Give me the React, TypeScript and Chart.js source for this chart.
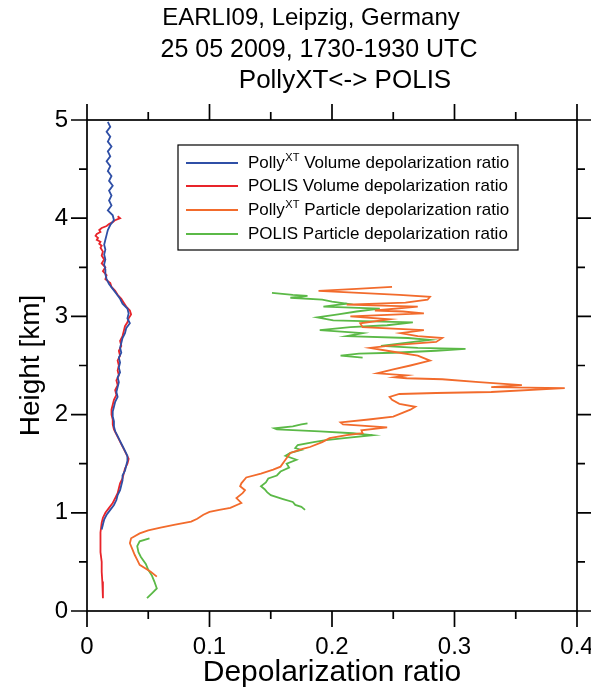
import React, { useEffect, useRef } from "react";
import { Chart, registerables } from "chart.js";

Chart.register(...registerables);

const FONT = "'Liberation Sans', Arial, Helvetica, sans-serif";

const titleLines = ["EARLI09, Leipzig, Germany", "25 05 2009, 1730-1930 UTC", "PollyXT<-> POLIS"];
const titleCenters = [311, 319, 345];
const titleSizes = [24, 25, 26];
const xTickValues = [0, 0.1, 0.2, 0.3, 0.4];
const yTickValues = [0, 1, 2, 3, 4, 5];
const xTitle = "Depolarization ratio";
const yTitle = "Height [km]";

const legendLabels = [
  ["Polly", "XT", " Volume depolarization ratio"],
  ["POLIS Volume depolarization ratio", "", ""],
  ["Polly", "XT", " Particle depolarization ratio"],
  ["POLIS Particle depolarization ratio", "", ""],
];
const seriesColors = ["#2f4fa6", "#e8242a", "#f26b2c", "#5bb947"];

// [height km, depolarization ratio]
const pollyVolume: [number, number][] = [
  [4.98, 0.017], [4.93, 0.019], [4.88, 0.016], [4.83, 0.019], [4.78, 0.017], [4.73, 0.02],
  [4.68, 0.017], [4.63, 0.019], [4.58, 0.016], [4.53, 0.019], [4.48, 0.017], [4.43, 0.02],
  [4.38, 0.018], [4.33, 0.021], [4.28, 0.018], [4.23, 0.02], [4.18, 0.018], [4.13, 0.02],
  [4.08, 0.017], [4.03, 0.021], [3.98, 0.022], [3.93, 0.019], [3.88, 0.017], [3.83, 0.016],
  [3.78, 0.015], [3.73, 0.014], [3.68, 0.015], [3.63, 0.014], [3.58, 0.015], [3.53, 0.014],
  [3.48, 0.015], [3.43, 0.015], [3.38, 0.016], [3.33, 0.018], [3.28, 0.021], [3.23, 0.024],
  [3.18, 0.027], [3.13, 0.029], [3.08, 0.033], [3.03, 0.034], [2.98, 0.033], [2.93, 0.035],
  [2.88, 0.032], [2.83, 0.031], [2.78, 0.029], [2.73, 0.028], [2.68, 0.027], [2.63, 0.028],
  [2.58, 0.026], [2.53, 0.027], [2.48, 0.026], [2.43, 0.027], [2.38, 0.025], [2.33, 0.026],
  [2.28, 0.025], [2.23, 0.024], [2.18, 0.025], [2.13, 0.023], [2.08, 0.022], [2.03, 0.021],
  [1.98, 0.021], [1.93, 0.022], [1.88, 0.022], [1.83, 0.023], [1.78, 0.025], [1.73, 0.027],
  [1.68, 0.029], [1.63, 0.031], [1.58, 0.033], [1.53, 0.033], [1.48, 0.032], [1.43, 0.031],
  [1.38, 0.029], [1.33, 0.029], [1.28, 0.028], [1.23, 0.027], [1.18, 0.025], [1.13, 0.024],
  [1.08, 0.022], [1.03, 0.019], [0.98, 0.016], [0.93, 0.014], [0.88, 0.013], [0.83, 0.012],
];

const polisVolume: [number, number][] = [
  [4.02, 0.025], [4.0, 0.027], [3.98, 0.023], [3.96, 0.021], [3.94, 0.018], [3.92, 0.016],
  [3.9, 0.012], [3.88, 0.01], [3.86, 0.011], [3.84, 0.008], [3.82, 0.007], [3.8, 0.009],
  [3.78, 0.008], [3.76, 0.011], [3.74, 0.01], [3.72, 0.012], [3.7, 0.011], [3.66, 0.013],
  [3.62, 0.012], [3.58, 0.014], [3.54, 0.012], [3.5, 0.015], [3.46, 0.013], [3.42, 0.016],
  [3.38, 0.015], [3.34, 0.019], [3.3, 0.02], [3.26, 0.023], [3.22, 0.025], [3.18, 0.028],
  [3.14, 0.03], [3.1, 0.032], [3.06, 0.035], [3.02, 0.036], [2.98, 0.034], [2.94, 0.033],
  [2.9, 0.031], [2.85, 0.03], [2.8, 0.029], [2.75, 0.027], [2.7, 0.028], [2.65, 0.026],
  [2.6, 0.027], [2.55, 0.025], [2.5, 0.026], [2.45, 0.025], [2.4, 0.026], [2.35, 0.024],
  [2.3, 0.025], [2.25, 0.023], [2.2, 0.024], [2.15, 0.022], [2.1, 0.021], [2.05, 0.02],
  [2.0, 0.02], [1.95, 0.021], [1.9, 0.021], [1.85, 0.022], [1.8, 0.024], [1.75, 0.026],
  [1.7, 0.028], [1.65, 0.03], [1.6, 0.032], [1.55, 0.034], [1.5, 0.033], [1.45, 0.031],
  [1.4, 0.03], [1.35, 0.029], [1.3, 0.027], [1.25, 0.026], [1.2, 0.025], [1.15, 0.023],
  [1.1, 0.021], [1.05, 0.018], [1.0, 0.015], [0.95, 0.013], [0.9, 0.012], [0.8, 0.011],
  [0.7, 0.011], [0.6, 0.011], [0.5, 0.012], [0.4, 0.012], [0.3, 0.0125], [0.2, 0.013],
  [0.13, 0.013],
];

const pollyParticle: [number, number][] = [
  [0.35, 0.057], [0.4, 0.052], [0.47, 0.043], [0.52, 0.041], [0.57, 0.039], [0.63, 0.037],
  [0.69, 0.035], [0.74, 0.036], [0.79, 0.043], [0.82, 0.05], [0.85, 0.06], [0.88, 0.072],
  [0.91, 0.085], [0.94, 0.09], [0.98, 0.095], [1.01, 0.1], [1.03, 0.108], [1.05, 0.117],
  [1.1, 0.126], [1.15, 0.122], [1.2, 0.127], [1.23, 0.129], [1.27, 0.125], [1.3, 0.126],
  [1.36, 0.13], [1.4, 0.142], [1.44, 0.152], [1.47, 0.158], [1.54, 0.162], [1.61, 0.166],
  [1.65, 0.176], [1.67, 0.182], [1.72, 0.192], [1.76, 0.198], [1.79, 0.212], [1.81, 0.225],
  [1.84, 0.224], [1.87, 0.245], [1.9, 0.209], [1.92, 0.207], [1.95, 0.23], [1.98, 0.25],
  [2.02, 0.258], [2.05, 0.264], [2.08, 0.268], [2.11, 0.255], [2.15, 0.249], [2.18, 0.247],
  [2.21, 0.255], [2.22, 0.285], [2.23, 0.33], [2.27, 0.39], [2.28, 0.33], [2.3, 0.355],
  [2.33, 0.32], [2.36, 0.29], [2.37, 0.261], [2.38, 0.251], [2.4, 0.261], [2.42, 0.237],
  [2.46, 0.25], [2.5, 0.264], [2.55, 0.28], [2.6, 0.27], [2.64, 0.25], [2.68, 0.231],
  [2.71, 0.253], [2.74, 0.285], [2.78, 0.29], [2.8, 0.27], [2.83, 0.256], [2.86, 0.275],
  [2.89, 0.225], [2.93, 0.223], [2.97, 0.247], [3.0, 0.215], [3.03, 0.275], [3.05, 0.258],
  [3.06, 0.235], [3.1, 0.27], [3.12, 0.212], [3.14, 0.26], [3.17, 0.278], [3.2, 0.28],
  [3.22, 0.255], [3.26, 0.189], [3.28, 0.22], [3.3, 0.249],
];

const polisParticleLow: [number, number][] = [
  [0.13, 0.049], [0.18, 0.053], [0.23, 0.057], [0.3, 0.055], [0.36, 0.053], [0.42, 0.05],
  [0.48, 0.048], [0.55, 0.044], [0.6, 0.042], [0.66, 0.041], [0.71, 0.043], [0.74, 0.051],
];
const polisParticleMid: [number, number][] = [
  [1.03, 0.178], [1.06, 0.175], [1.08, 0.17], [1.11, 0.168], [1.14, 0.16], [1.18, 0.15],
  [1.21, 0.147], [1.24, 0.145], [1.27, 0.142], [1.31, 0.146], [1.35, 0.148], [1.38, 0.155],
  [1.42, 0.158], [1.46, 0.165], [1.5, 0.163], [1.54, 0.171], [1.58, 0.162], [1.61, 0.166],
  [1.64, 0.175], [1.66, 0.17], [1.69, 0.172], [1.72, 0.185], [1.74, 0.195], [1.76, 0.21],
  [1.79, 0.233], [1.81, 0.217], [1.83, 0.19], [1.85, 0.155], [1.86, 0.153], [1.88, 0.168],
  [1.9, 0.175], [1.91, 0.18],
];
const polisParticleHigh: [number, number][] = [
  [2.58, 0.225], [2.6, 0.207], [2.62, 0.222], [2.63, 0.25], [2.65, 0.285], [2.67, 0.309],
  [2.68, 0.27], [2.7, 0.24], [2.73, 0.26], [2.76, 0.28], [2.78, 0.262], [2.8, 0.212],
  [2.83, 0.225], [2.86, 0.19], [2.89, 0.215], [2.91, 0.245], [2.94, 0.266], [2.96, 0.201],
  [2.99, 0.188], [3.02, 0.205], [3.05, 0.22], [3.08, 0.239], [3.1, 0.193], [3.13, 0.212],
  [3.15, 0.2], [3.17, 0.192], [3.19, 0.166], [3.21, 0.18], [3.22, 0.168], [3.24, 0.151],
];

const toPts = (arr: [number, number][]) => arr.map(([h, v]) => ({ x: v, y: h }));
const gap = { x: null as any, y: null as any };

const framePlugin = {
  id: "frameTicks",
  afterDraw(chart: any) {
    const ctx = chart.ctx;
    const { left, right, top, bottom } = chart.chartArea;
    const xs = chart.scales.x;
    const ys = chart.scales.y;
    ctx.save();
    ctx.strokeStyle = "#000";
    ctx.lineWidth = 1.7;
    ctx.strokeRect(left, top, right - left, bottom - top);
    const major = 16, minor = 8;
    for (let i = 0; i <= 8; i++) {
      const v = i * 0.05;
      const len = i % 2 === 0 ? major : minor;
      const px = xs.getPixelForValue(v);
      ctx.beginPath();
      ctx.moveTo(px, bottom); ctx.lineTo(px, bottom + len);
      ctx.moveTo(px, top); ctx.lineTo(px, top - len);
      ctx.stroke();
    }
    for (let i = 0; i <= 10; i++) {
      const v = i * 0.5;
      const len = i % 2 === 0 ? major : minor;
      const py = ys.getPixelForValue(v);
      ctx.beginPath();
      ctx.moveTo(left, py); ctx.lineTo(left - len, py);
      ctx.moveTo(right, py); ctx.lineTo(right + len, py);
      ctx.stroke();
    }
    // title
    ctx.fillStyle = "#000";
    ctx.textAlign = "center";
    ctx.textBaseline = "middle";
    const titleY = [18, 50, 81];
    titleLines.forEach((t, i) => {
      ctx.font = `${titleSizes[i]}px ${FONT}`;
      ctx.fillText(t, titleCenters[i], titleY[i]);
    });
    // legend
    const bx = 178, by = 145, bw = 340, bh = 105;
    ctx.lineWidth = 1.2;
    ctx.strokeRect(bx, by, bw, bh);
    const rowY = [163, 186, 210, 234];
    legendLabels.forEach((parts, i) => {
      ctx.strokeStyle = seriesColors[i];
      ctx.lineWidth = 2;
      ctx.beginPath();
      ctx.moveTo(186, rowY[i]); ctx.lineTo(238, rowY[i]);
      ctx.stroke();
      ctx.textAlign = "left";
      ctx.textBaseline = "middle";
      ctx.fillStyle = "#000";
      let x = 248;
      ctx.font = `17px ${FONT}`;
      ctx.fillText(parts[0], x, rowY[i]);
      x += ctx.measureText(parts[0]).width;
      if (parts[1]) {
        ctx.font = `11px ${FONT}`;
        ctx.fillText(parts[1], x + 0.5, rowY[i] - 5);
        x += ctx.measureText(parts[1]).width + 0.5;
        ctx.font = `17px ${FONT}`;
        ctx.fillText(parts[2], x, rowY[i]);
      }
    });
    ctx.restore();
  },
};

export default function App() {
  const ref = useRef<HTMLCanvasElement>(null);
  useEffect(() => {
    if (!ref.current) return;
    const ds = (label: string, data: any[], color: string, width: number) => ({
      label,
      data,
      borderColor: color,
      backgroundColor: color,
      borderWidth: width,
      pointRadius: 0,
      showLine: true,
      fill: false,
      spanGaps: false,
      tension: 0,
    });
    const chart = new Chart(ref.current, {
      type: "scatter",
      data: {
        datasets: [
          ds("PollyXT Particle depolarization ratio", toPts(pollyParticle), seriesColors[2], 1.8),
          ds(
            "POLIS Particle depolarization ratio",
            [...toPts(polisParticleLow), gap, ...toPts(polisParticleMid), gap, ...toPts(polisParticleHigh)],
            seriesColors[3],
            1.8
          ),
          ds("PollyXT Volume depolarization ratio", toPts(pollyVolume), seriesColors[0], 1.8),
          ds("POLIS Volume depolarization ratio", toPts(polisVolume), seriesColors[1], 1.8),
        ],
      },
      options: {
        animation: false,
        responsive: false,
        maintainAspectRatio: false,
        layout: { padding: { top: 120, right: 14, left: 0, bottom: 0 } },
        plugins: { legend: { display: false }, tooltip: { enabled: false }, title: { display: false } },
        scales: {
          x: {
            type: "linear",
            min: 0,
            max: 0.4,
            afterBuildTicks: (s: any) => { s.ticks = xTickValues.map((v) => ({ value: v })); },
            afterFit: (s: any) => {
              s.height = 80;
              s.paddingLeft = 0; s.paddingRight = 0; s.paddingTop = 0; s.paddingBottom = 0;
            },
            grid: { display: false, drawTicks: false, tickLength: 0 },
            border: { display: false },
            ticks: {
              padding: 22,
              color: "#000",
              font: { family: FONT, size: 24 },
              maxRotation: 0,
              callback: (v: any) => String(Number(v)),
            },
            title: {
              display: true,
              text: xTitle,
              color: "#000",
              font: { family: FONT, size: 30 },
              padding: { top: 0, bottom: 0 },
            },
          },
          y: {
            type: "linear",
            min: 0,
            max: 5,
            afterBuildTicks: (s: any) => { s.ticks = yTickValues.map((v) => ({ value: v })); },
            afterFit: (s: any) => {
              s.width = 87;
              s.paddingLeft = 0; s.paddingRight = 0; s.paddingTop = 0; s.paddingBottom = 0;
            },
            grid: { display: false, drawTicks: false, tickLength: 0 },
            border: { display: false },
            ticks: {
              padding: 19,
              color: "#000",
              font: { family: FONT, size: 24 },
              callback: (v: any) => String(Number(v)),
            },
            title: {
              display: true,
              text: yTitle,
              color: "#000",
              font: { family: FONT, size: 28 },
              padding: { top: 14, bottom: 0 },
            },
          },
        },
      },
      plugins: [framePlugin],
    });
    return () => chart.destroy();
  }, []);
  return (
    <div style={{ position: "absolute", left: 0, top: 0, width: 591, height: 691, background: "#fff" }}>
      <canvas ref={ref} width={591} height={691} style={{ width: 591, height: 691 }} />
    </div>
  );
}
